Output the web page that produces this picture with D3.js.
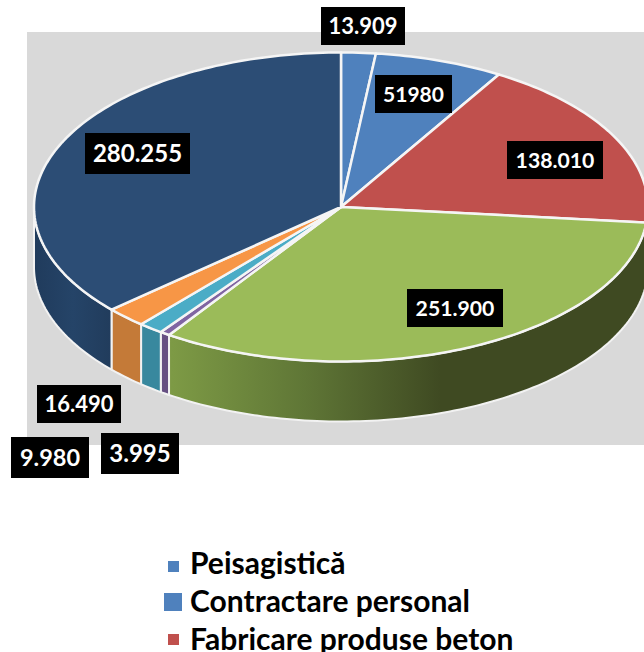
<!DOCTYPE html>
<html lang="en">
  <head>
    <meta charset="UTF-8" />
    <title>Pie</title>
    <style>
      body { margin: 0; background: #fff; overflow: hidden; }
      svg { display: block; }
      text { font-family: Lato, "Open Sans", sans-serif; font-weight: 700; }
    </style>
  </head>
  <body>
    <div id="chart"></div>
    <script src="https://cdn.jsdelivr.net/npm/d3@7/dist/d3.min.js"></script>
    <script>
    // data, clockwise from the top
    var labels = ["13.909", "51980", "138.010", "251.900", "3.995", "9.980", "16.490", "280.255"];
    var values = [13.909, 51.980, 138.010, 251.900, 3.995, 9.980, 16.490, 280.255];
    var legendNames = ["Peisagistică", "Contractare personal", "Fabricare produse beton"];

    var topColors = ["#4f81bd", "#4f81bd", "#c0504d", "#9bbb59", "#8064a2", "#4bacc6", "#f79646", "#2c4d75"];
    var wallColors = ["#4f81bd", "#4f81bd", "#5f2c2a", "url(#wallGreen)", "#664f82", "#38889e", "#c47a38", "url(#wallBlue)"];
    var legendColors = ["#4f81bd", "#4f81bd", "#c0504d"];

    var width = 644, height = 652;
    var cx = 341, cy = 207, rx = 307, ry = 154.5, depth = 60;

    var svg = d3.select("#chart").append("svg")
      .attr("width", width)
      .attr("height", height);

    var defs = svg.append("defs");
    function wallGradient(id, x1, x2, stops) {
      var g = defs.append("linearGradient")
        .attr("id", id)
        .attr("gradientUnits", "userSpaceOnUse")
        .attr("x1", x1).attr("x2", x2).attr("y1", 0).attr("y2", 0);
      stops.forEach(function(s) {
        g.append("stop").attr("offset", s[0]).attr("stop-color", s[1]);
      });
    }
    wallGradient("wallGreen", 172, 440, [[0, "#7d9a45"], [0.5, "#5f7636"], [1, "#3f4a22"]]);
    wallGradient("wallBlue", 34, 112, [[0, "#203b5c"], [0.5, "#254468"], [1, "#213c5c"]]);

    // background panel
    svg.append("rect")
      .attr("x", 27).attr("y", 32)
      .attr("width", width - 27).attr("height", 413)
      .attr("fill", "#d9d9d9");

    var x = d3.scaleLinear().domain([-1, 1]).range([cx - rx, cx + rx]);
    var y = d3.scaleLinear().domain([-1, 1]).range([cy - ry, cy + ry]);
    var line = d3.line();

    var arcs = d3.pie().sort(null)(values);

    function rim(a0, a1, drop) {
      var n = Math.max(2, Math.ceil((a1 - a0) / 0.02));
      return d3.range(n + 1).map(function(i) {
        var a = a0 + (a1 - a0) * i / n;
        return [x(Math.sin(a)), y(-Math.cos(a)) + drop];
      });
    }

    // outer walls, only the front half shows
    svg.append("g").selectAll("path")
      .data(arcs)
      .enter()
      .filter(function(d) { return d.endAngle > Math.PI / 2 && d.startAngle < Math.PI * 1.5; })
      .append("path")
      .attr("d", function(d) {
        var a0 = Math.max(d.startAngle, Math.PI / 2);
        var a1 = Math.min(d.endAngle, Math.PI * 1.5);
        return line(rim(a0, a1, 0).concat(rim(a0, a1, depth).reverse())) + "Z";
      })
      .attr("fill", function(d) { return wallColors[d.index]; })
      .attr("stroke", "#f2f2f2")
      .attr("stroke-width", 2)
      .attr("stroke-linejoin", "round");

    // top of the pie
    svg.append("g").selectAll("path")
      .data(arcs)
      .enter()
      .append("path")
      .attr("d", function(d) {
        return line([[x(0), y(0)]].concat(rim(d.startAngle, d.endAngle, 0))) + "Z";
      })
      .attr("fill", function(d) { return topColors[d.index]; })
      .attr("stroke", "#f5f5f5")
      .attr("stroke-width", 2.5)
      .attr("stroke-linejoin", "round");

    // data labels, black boxes: x0, y0, x1, y1 and font size of each one
    var labelBoxes = [
      [321, 7, 405, 45, 22], [375, 75, 452, 113, 21], [507, 141, 603, 179, 21.2], [407, 289, 503, 327, 21.2],
      [101, 433, 179, 474, 24], [11, 437, 89, 478, 23.5], [37, 385, 121, 423, 22], [85, 133, 190, 174, 24]
    ];
    var lab = svg.append("g").selectAll("g")
      .data(labels)
      .enter()
      .append("g");
    lab.append("rect")
      .attr("x", function(d, i) { return labelBoxes[i][0]; })
      .attr("y", function(d, i) { return labelBoxes[i][1]; })
      .attr("width", function(d, i) { return labelBoxes[i][2] - labelBoxes[i][0]; })
      .attr("height", function(d, i) { return labelBoxes[i][3] - labelBoxes[i][1]; })
      .attr("fill", "#000");
    lab.append("text")
      .attr("x", function(d, i) { return (labelBoxes[i][0] + labelBoxes[i][2]) / 2; })
      .attr("y", function(d, i) { return (labelBoxes[i][1] + labelBoxes[i][3]) / 2 + 8; })
      .attr("text-anchor", "middle")
      .attr("font-size", function(d, i) { return labelBoxes[i][4]; })
      .attr("fill", "#fff")
      .text(function(d) { return d; });

    // legend, the last row is cut by the page edge
    var markerBoxes = [[168, 561, 11], [164, 593, 18], [168, 634, 11]];
    var leg = svg.append("g").selectAll("g")
      .data(legendNames)
      .enter()
      .append("g");
    leg.append("rect")
      .attr("x", function(d, i) { return markerBoxes[i][0]; })
      .attr("y", function(d, i) { return markerBoxes[i][1]; })
      .attr("width", function(d, i) { return markerBoxes[i][2]; })
      .attr("height", function(d, i) { return markerBoxes[i][2]; })
      .attr("fill", function(d, i) { return legendColors[i]; });
    leg.append("text")
      .attr("x", 190)
      .attr("y", function(d, i) { return 574 + i * 38; })
      .attr("font-size", 30)
      .attr("fill", "#000")
      .text(function(d) { return d; });
    </script>
  </body>
</html>
